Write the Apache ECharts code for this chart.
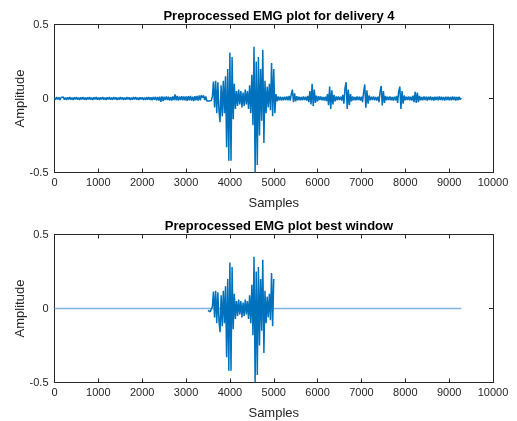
<!DOCTYPE html>
<html><head><meta charset="utf-8">
<script src="https://cdn.jsdelivr.net/npm/echarts@6/dist/echarts.min.js"></script>
<style>html,body{margin:0;padding:0;background:#fff}#c{width:517px;height:421px}</style>
</head><body><div id="c"></div>
<script>
// sample spacing of the hand-read amplitude values below
const sampleStep = 25;
const titles = ['Preprocessed EMG plot for delivery 4', 'Preprocessed EMG plot best window'];
const xTickValues = [0,1000,2000,3000,4000,5000,6000,7000,8000,9000,10000];
const yTickValues = [-0.5, 0, 0.5];
const windowStart = 3500;
const windowEnd = 5000;

// amplitude, one value every 25 samples, starting at 0
const amp0 = [0.006,-0.008,0.009,-0.007,0.008,-0.009,0.007,-0.006,0.010,-0.008,
0.007,-0.009,0.008,-0.007,0.009,-0.008,0.006,-0.010,0.008,-0.007,
0.009,-0.008,0.007,-0.009,0.008,-0.006,0.010,-0.008,0.007,-0.009,
0.008,-0.007,0.009,-0.008,0.006,-0.009,0.008,-0.007,0.010,-0.008];
const amp1000 = [0.007,-0.009,0.008,-0.006,0.009,-0.008,0.007,-0.010,0.008,-0.007,
0.009,-0.008,0.006,-0.009,0.010,-0.007,0.008,-0.009,0.007,-0.008,
0.009,-0.006,0.008,-0.010,0.007,-0.008,0.009,-0.007,0.008,-0.009,
0.006,-0.008,0.010,-0.007,0.009,-0.008,0.007,-0.009,0.008,-0.007];
const amp2000 = [0.008,-0.009,0.007,-0.010,0.009,-0.008,0.010,-0.009,0.008,-0.011,
0.010,-0.009,0.011,-0.012,0.010,-0.014,0.012,-0.022,0.014,-0.017,
0.012,-0.011,0.013,-0.010,0.012,-0.013,0.011,-0.014,0.014,-0.010,
0.027,-0.012,0.017,-0.014,0.013,-0.011,0.015,-0.012,0.014,-0.013];
const amp3000 = [0.014,-0.015,0.016,-0.012,0.018,-0.014,0.012,-0.017,0.015,-0.013,
0.017,-0.014,0.020,-0.012,0.022,0.005,0.020,-0.010,0.014,-0.017,
-0.012,-0.017,-0.022,-0.014,0.012,0.115,-0.06,0.12,-0.10,0.11,
-0.08,-0.16,0.09,-0.12,0.12,-0.10,0.15,-0.33,0.20,-0.42];
const amp4000 = [0.31,-0.42,0.28,-0.14,0.10,-0.07,0.05,-0.05,0.06,-0.04,
0.05,-0.06,0.04,-0.05,0.06,-0.04,0.05,-0.07,0.09,-0.10,
0.16,-0.18,0.35,-0.50,0.25,-0.45,0.28,-0.25,0.20,-0.15,
0.33,-0.30,0.12,-0.10,0.08,-0.06,0.10,-0.08,0.24,-0.12];
const amp5000 = [0.20,-0.10,0.03,-0.02,0.014,-0.012,0.012,-0.014,0.010,-0.012,
0.012,-0.010,0.014,-0.012,0.017,-0.014,0.030,0.060,-0.025,0.035,
-0.020,0.015,-0.012,0.012,-0.012,0.010,-0.012,0.014,-0.010,0.012,
-0.014,0.017,-0.025,0.050,-0.040,0.100,-0.050,0.060,-0.030,0.020];
const amp6000 = [-0.020,0.015,-0.010,0.014,-0.012,0.010,-0.014,0.012,-0.017,0.030,
-0.045,0.080,-0.070,0.055,-0.040,0.025,-0.020,0.014,-0.012,0.014,
-0.010,0.012,-0.014,0.025,-0.035,0.070,0.110,-0.070,0.060,-0.045,
0.030,-0.020,0.014,-0.012,0.010,-0.012,0.014,-0.010,0.012,-0.014];
const amp7000 = [0.012,-0.025,0.045,0.095,-0.063,0.055,-0.035,0.020,-0.012,0.012,
-0.010,0.014,-0.012,0.010,-0.014,0.012,-0.025,0.045,0.085,-0.047,
0.050,-0.030,0.018,-0.012,0.012,-0.010,0.014,-0.012,0.010,-0.014,
0.012,-0.012,0.017,-0.030,0.050,0.080,-0.070,0.050,-0.035,0.020];
const amp8000 = [-0.012,0.012,-0.010,0.014,-0.012,0.012,-0.014,0.020,-0.025,0.045,
-0.030,0.040,-0.025,0.018,-0.012,0.010,-0.012,0.014,-0.010,0.012,
-0.014,0.012,-0.010,0.014,-0.012,0.010,-0.014,0.012,-0.010,0.012,
-0.012,0.014,-0.010,0.012,-0.012,0.010,-0.014,0.012,-0.010,0.012];
const amp9000 = [-0.012,0.010,-0.012,0.014,-0.010,0.012,-0.014,0.010,-0.012,0.012,-0.008,0.004];

const amplitude = [].concat(amp0, amp1000, amp2000, amp3000, amp4000, amp5000, amp6000, amp7000, amp8000, amp9000);
const fullData = amplitude.map((v, i) => [i * sampleStep, v]);
const windowData = fullData.filter(p => p[0] >= windowStart && p[0] <= windowEnd);
const flatData = fullData.map(p => [p[0], 0]);

const C = '#262626';
const LINE = '#0072BD';
const gridTops = [24.5, 234.5];
const grids = gridTops.map(t => ({left: 54.5, right: 24, top: t, height: 148}));

function xAxes(gi) {
  return [
    {gridIndex: gi, type: 'value', min: 0, max: 10000, interval: 1000, position: 'bottom',
     name: 'Samples', nameLocation: 'middle', nameGap: 24, nameMoveOverlap: false,
     nameTextStyle: {fontFamily: 'Liberation Sans', fontSize: 13, color: C},
     axisLine: {show: true, onZero: false, lineStyle: {color: C, width: 1}},
     axisTick: {show: true, inside: true, length: 4, lineStyle: {color: C}},
     axisLabel: {fontFamily: 'Liberation Sans', fontSize: 11, color: C, margin: 5,
       formatter: v => String(v)},
     splitLine: {show: false}},
    {gridIndex: gi, type: 'value', min: 0, max: 10000, interval: 1000, position: 'top',
     axisLine: {show: true, onZero: false, lineStyle: {color: C, width: 1}},
     axisTick: {show: true, inside: true, length: 4, lineStyle: {color: C}},
     axisLabel: {show: false}, splitLine: {show: false}}
  ];
}
function yAxes(gi) {
  return [
    {gridIndex: gi, type: 'value', min: -0.5, max: 0.5, interval: 0.5, position: 'left',
     name: 'Amplitude', nameLocation: 'middle', nameGap: 28, nameMoveOverlap: false,
     nameTextStyle: {fontFamily: 'Liberation Sans', fontSize: 13, color: C},
     axisLine: {show: true, onZero: false, lineStyle: {color: C, width: 1}},
     axisTick: {show: true, inside: true, length: 4, lineStyle: {color: C}},
     axisLabel: {fontFamily: 'Liberation Sans', fontSize: 11, color: C, margin: 6,
       formatter: v => (Math.abs(v) < 1e-9 ? '0' : String(v))},
     splitLine: {show: false}},
    {gridIndex: gi, type: 'value', min: -0.5, max: 0.5, interval: 0.5, position: 'right',
     axisLine: {show: true, onZero: false, lineStyle: {color: C, width: 1}},
     axisTick: {show: true, inside: true, length: 4, lineStyle: {color: C}},
     axisLabel: {show: false}, splitLine: {show: false}}
  ];
}

const chart = echarts.init(document.getElementById('c'), null, {renderer: 'canvas'});
chart.setOption({
  animation: false,
  backgroundColor: '#fff',
  title: titles.map((t, i) => ({
    text: t, left: 274, top: gridTops[i] - 20, textAlign: 'center',
    textStyle: {fontFamily: 'Liberation Sans', fontSize: 13, fontWeight: 'bold', color: '#000'}
  })),
  grid: grids,
  xAxis: [].concat(xAxes(0), xAxes(1)),
  yAxis: [].concat(yAxes(0), yAxes(1)),
  series: [
    {type: 'line', xAxisIndex: 0, yAxisIndex: 0, data: fullData, showSymbol: false, symbol: 'none',
     lineStyle: {color: LINE, width: 1.5}, silent: true},
    {type: 'line', xAxisIndex: 2, yAxisIndex: 2, data: flatData, showSymbol: false, symbol: 'none',
     lineStyle: {color: '#7fb3de', width: 1.5}, silent: true},
    {type: 'line', xAxisIndex: 2, yAxisIndex: 2, data: windowData, showSymbol: false, symbol: 'none',
     lineStyle: {color: LINE, width: 1.5}, silent: true}
  ]
});
</script>
</body></html>
